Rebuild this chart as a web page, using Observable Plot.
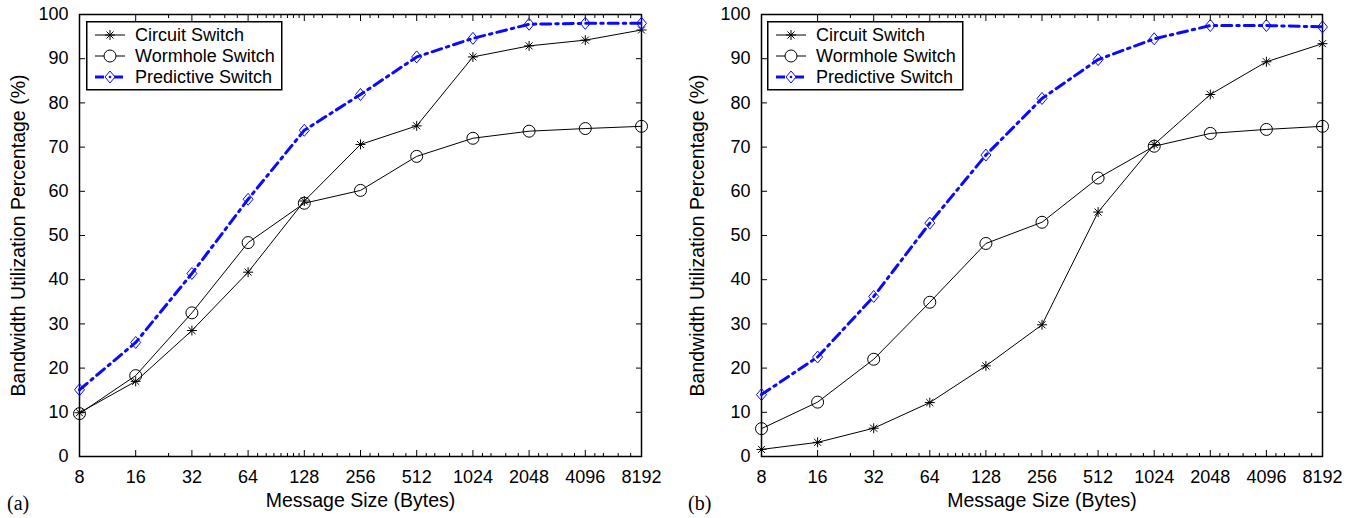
<!DOCTYPE html>
<html>
<head>
<meta charset="utf-8">
<script src="https://cdn.jsdelivr.net/npm/d3@7"></script>
<script src="https://cdn.jsdelivr.net/npm/@observablehq/plot@0.6"></script>
<style>
  body { margin: 0; background: #fff; }
  #root { position: relative; width: 1355px; height: 518px; overflow: hidden; font-family: "Liberation Sans", Arial, sans-serif; }
  .panel { position: absolute; top: 0; }
  .legend { position: absolute; }
  .tag { position: absolute; font-family: "Liberation Serif", "Times New Roman", serif; font-size: 20px; line-height: 22px; }
</style>
</head>
<body>
<div id="root"></div>
<script>
// ---- data ----
const sizes = [8, 16, 32, 64, 128, 256, 512, 1024, 2048, 4096, 8192];
const seriesNames = ["Circuit Switch", "Wormhole Switch", "Predictive Switch"];

const circuitA    = [9.9, 17.0, 28.5, 41.7, 57.8, 70.6, 74.8, 90.4, 92.9, 94.2, 96.5];
const wormholeA   = [9.7, 18.3, 32.5, 48.4, 57.3, 60.2, 67.9, 72.0, 73.6, 74.2, 74.7];
const predictiveA = [15.1, 25.8, 41.4, 58.2, 73.8, 81.9, 90.4, 94.6, 97.8, 98.0, 98.0];

const circuitB    = [1.6, 3.2, 6.4, 12.2, 20.5, 29.8, 55.3, 70.6, 81.9, 89.3, 93.4];
const wormholeB   = [6.3, 12.3, 22.0, 34.9, 48.2, 53.0, 63.0, 70.2, 73.1, 74.0, 74.7];
const predictiveB = [14.0, 22.5, 36.2, 52.8, 68.2, 81.0, 89.8, 94.5, 97.5, 97.5, 97.2];

const yTicks = [0, 10, 20, 30, 40, 50, 60, 70, 80, 90, 100];
const xMinorTicks = [24, 40, 48, 56, 72, 80, 88, 96, 104, 112, 120,
  144, 160, 192, 224, 288, 320, 384, 448, 576, 640, 768, 896,
  1152, 1280, 1536, 1792, 2304, 2560, 3072, 3584, 4608, 5120, 6144, 7168];
const panelLabels = ["(a)", "(b)"];
const xTitle = "Message Size (Bytes)";
const yTitle = "Bandwidth Utilization Percentage (%)";

// ---- styles ----
const FONT = "'Liberation Sans', Arial, sans-serif";
const FS = 18;
const FS_TITLE = 19.5;
const BLUE = "#0a0aff";
const DASH = "10,5,2.5,5";
const diamondSymbol = {
  draw(context, size) {
    const r = Math.sqrt(size / Math.PI);
    context.moveTo(0, -r * 1.2);
    context.lineTo(r, 0);
    context.lineTo(0, r * 1.2);
    context.lineTo(-r, 0);
    context.closePath();
  }
};

function makePanel(vals, width, ml, mr, yTitleDx) {
  const rows = seriesNames.flatMap((name, si) =>
    sizes.map((s, i) => ({size: s, value: vals[si][i], series: name})));
  const by = n => rows.filter(d => d.series === n);
  const c = by(seriesNames[0]), w = by(seriesNames[1]), p = by(seriesNames[2]);
  return Plot.plot({
    width, height: 518,
    marginLeft: ml, marginRight: mr, marginTop: 14, marginBottom: 62,
    style: {fontFamily: FONT, fontSize: FS + "px", background: "transparent", color: "#000", overflow: "visible"},
    x: {type: "log", base: 2, domain: [8, 8192]},
    y: {domain: [0, 100]},
    marks: [
      Plot.axisX({anchor: "bottom", ticks: xMinorTicks, tickSize: -3, tickFormat: () => "", label: null}),
      Plot.axisX({anchor: "top", ticks: xMinorTicks, tickSize: -3, tickFormat: () => "", label: null}),
      Plot.axisX({anchor: "bottom", ticks: sizes, tickSize: -6, tickPadding: 20, tickFormat: d => String(d), label: null, fontSize: FS}),
      Plot.axisX({anchor: "top", ticks: sizes, tickSize: -6, tickFormat: () => "", label: null}),
      Plot.axisY({anchor: "left", ticks: yTicks, tickSize: -6, tickPadding: 17, tickFormat: d => String(d), label: null, fontSize: FS}),
      Plot.axisY({anchor: "right", ticks: yTicks, tickSize: -6, tickFormat: () => "", label: null}),
      Plot.frame({stroke: "#000", strokeWidth: 1.5}),
      Plot.line(c, {x: "size", y: "value", stroke: "#000", strokeWidth: 1}),
      Plot.line(w, {x: "size", y: "value", stroke: "#000", strokeWidth: 1}),
      Plot.line(p, {x: "size", y: "value", stroke: BLUE, strokeWidth: 3, strokeDasharray: DASH}),
      Plot.dot(c, {x: "size", y: "value", symbol: "plus", r: 3.3, stroke: "#000", strokeWidth: 1}),
      Plot.dot(c, {x: "size", y: "value", symbol: "times", r: 3.3, stroke: "#000", strokeWidth: 1}),
      Plot.dot(w, {x: "size", y: "value", symbol: "circle", r: 6, stroke: "#000", fill: "none", strokeWidth: 1}),
      Plot.dot(p, {x: "size", y: "value", symbol: diamondSymbol, r: 5, stroke: BLUE, fill: "none", strokeWidth: 1}),
      Plot.text([xTitle], {text: d => d, frameAnchor: "bottom", textAnchor: "middle", dy: 50, fontSize: FS_TITLE}),
      Plot.text([yTitle], {text: d => d, frameAnchor: "left", textAnchor: "middle", rotate: -90, dx: yTitleDx, fontSize: FS_TITLE})
    ]
  });
}

function makeLegend() {
  const svg = d3.create("svg").attr("width", 198).attr("height", 71)
    .style("font-family", FONT).style("font-size", FS + "px");
  svg.append("rect").attr("x", 0.75).attr("y", 0.75).attr("width", 195).attr("height", 68)
    .attr("fill", "#fff").attr("stroke", "#000").attr("stroke-width", 1.5);
  const rowsY = [14, 35, 56];
  const x0 = 9, x1 = 39, xm = 24, xt = 49;
  // circuit
  svg.append("line").attr("x1", x0).attr("x2", x1).attr("y1", rowsY[0]).attr("y2", rowsY[0]).attr("stroke", "#000");
  svg.append("path").attr("d", d3.symbol(d3.symbolPlus, Math.PI * 3.3 * 3.3)()).attr("transform", `translate(${xm},${rowsY[0]})`).attr("stroke", "#000").attr("fill", "none");
  svg.append("path").attr("d", d3.symbol(d3.symbolTimes, Math.PI * 3.3 * 3.3)()).attr("transform", `translate(${xm},${rowsY[0]})`).attr("stroke", "#000").attr("fill", "none");
  // wormhole
  svg.append("line").attr("x1", x0).attr("x2", x1).attr("y1", rowsY[1]).attr("y2", rowsY[1]).attr("stroke", "#000");
  svg.append("circle").attr("cx", xm).attr("cy", rowsY[1]).attr("r", 6).attr("stroke", "#000").attr("fill", "#fff");
  // predictive
  svg.append("line").attr("x1", x0).attr("x2", x1).attr("y1", rowsY[2]).attr("y2", rowsY[2]).attr("stroke", BLUE)
    .attr("stroke-width", 3).attr("stroke-dasharray", "9,4,2,4");
  svg.append("path").attr("d", d3.symbol(diamondSymbol, Math.PI * 25)()).attr("transform", `translate(${xm},${rowsY[2]})`).attr("stroke", BLUE).attr("fill", "#fff");
  svg.append("circle").attr("cx", xm).attr("cy", rowsY[2]).attr("r", 1.3).attr("fill", BLUE);
  seriesNames.forEach((n, i) => {
    svg.append("text").attr("x", xt).attr("y", rowsY[i]).attr("dy", "0.35em").text(n);
  });
  return svg.node();
}

const root = document.getElementById("root");
const panels = [
  {vals: [circuitA, wormholeA, predictiveA], left: 0, width: 677, ml: 79, mr: 36, ytdx: -61, legendLeft: 86, tagLeft: 7},
  {vals: [circuitB, wormholeB, predictiveB], left: 677, width: 678, ml: 84, mr: 33, ytdx: -64, legendLeft: 90, tagLeft: 11}
];
panels.forEach((pn, i) => {
  const wrap = document.createElement("div");
  wrap.className = "panel";
  wrap.style.left = pn.left + "px";
  wrap.style.width = pn.width + "px";
  wrap.style.height = "518px";
  wrap.appendChild(makePanel(pn.vals, pn.width, pn.ml, pn.mr, pn.ytdx));
  const lg = document.createElement("div");
  lg.className = "legend";
  lg.style.left = pn.legendLeft + "px";
  lg.style.top = "21px";
  lg.appendChild(makeLegend());
  wrap.appendChild(lg);
  const tag = document.createElement("div");
  tag.className = "tag";
  tag.style.left = pn.tagLeft + "px";
  tag.style.top = "492px";
  tag.textContent = panelLabels[i];
  wrap.appendChild(tag);
  root.appendChild(wrap);
});
</script>
</body>
</html>
